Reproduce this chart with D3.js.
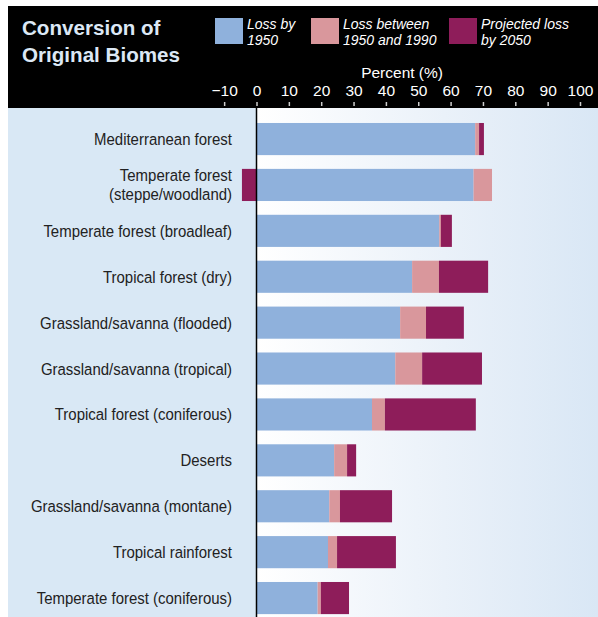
<!DOCTYPE html>
<html>
<head>
<meta charset="utf-8">
<script src="https://cdn.jsdelivr.net/npm/d3@7"></script>
<style>
body{margin:0;background:#fff;}
</style>
</head>
<body>
<script>
var canvaswidth=598;
var canvasheight=617;

// data (percent of original area)
var biomes=["Mediterranean forest","Temperate forest (steppe/woodland)","Temperate forest (broadleaf)","Tropical forest (dry)",
	"Grassland/savanna (flooded)","Grassland/savanna (tropical)","Tropical forest (coniferous)","Deserts",
	"Grassland/savanna (montane)","Tropical rainforest","Temperate forest (coniferous)"];
var lossBy1950=[67.6,67.1,56.5,48.1,44.4,42.9,35.7,24.0,22.5,22.1,18.9];
var loss1950to1990=[1.2,5.7,0.5,8.3,8.0,8.3,4.0,4.0,3.3,2.8,1.0];
var projected2050=[1.5,-4.5,3.4,15.2,11.7,18.5,28.1,2.8,16.1,18.2,8.7];
var seriesNames=["Loss by\n1950","Loss between\n1950 and 1990","Projected loss\nby 2050"];
var tickvals=[-10,0,10,20,30,40,50,60,70,80,90,100];
var colors=["#8fb1dc","#d9979c","#8e1d5a"];

var svg=d3.select("body").append("svg")
	.attr("width",canvaswidth)
	.attr("height",canvasheight);

var x=d3.scaleLinear().domain([0,100]).range([256.5,580]);
var y=d3.scaleBand().domain(biomes).range([116.1,621]).paddingInner(0.3).paddingOuter(0.15);

var defs=svg.append("defs");
var grad=defs.append("linearGradient").attr("id","plotgrad").attr("x1","0%").attr("x2","100%").attr("y1","0%").attr("y2","0%");
grad.append("stop").attr("offset","0%").attr("stop-color","#ffffff");
grad.append("stop").attr("offset","55%").attr("stop-color","#eaf1f9");
grad.append("stop").attr("offset","100%").attr("stop-color","#d9e7f5");

// header + panels
svg.append("rect").attr("x",8).attr("y",6).attr("width",canvaswidth-8).attr("height",102).attr("fill","#000");
svg.append("rect").attr("x",8).attr("y",108).attr("width",x(0)-8).attr("height",canvasheight-108).attr("fill","#d9e8f5");
svg.append("rect").attr("x",x(0)).attr("y",108).attr("width",canvaswidth-x(0)).attr("height",canvasheight-108).attr("fill","url(#plotgrad)");

svg.append("text").attr("x",22).attr("y",35).text("Conversion of")
	.attr("fill","#dce8f5").attr("font-family","Liberation Sans, Arial, sans-serif").attr("font-weight","bold").attr("font-size",20.6);
svg.append("text").attr("x",22).attr("y",62).text("Original Biomes")
	.attr("fill","#dce8f5").attr("font-family","Liberation Sans, Arial, sans-serif").attr("font-weight","bold").attr("font-size",20.6);

// legend
var legx=[215,311,449];
seriesNames.forEach(function(name,i){
	svg.append("rect").attr("x",legx[i]).attr("y",18).attr("width",28).attr("height",26).attr("fill",colors[i]);
	var t=svg.append("text").attr("x",legx[i]+32).attr("y",29).attr("fill","#fff")
		.attr("font-family","Liberation Sans, Arial, sans-serif").attr("font-style","italic").attr("font-size",14);
	name.split("\n").forEach(function(line,j){
		t.append("tspan").attr("x",legx[i]+32).attr("dy",j==0?0:16).text(line);
	});
});

// axis on top
svg.append("text").attr("x",x(45)).attr("y",78).attr("text-anchor","middle").text("Percent (%)")
	.attr("fill","#fff").attr("font-family","Liberation Sans, Arial, sans-serif").attr("font-size",15.5);
var xAxis=d3.axisTop(x).tickValues(tickvals).tickSize(4).tickPadding(6)
	.tickFormat(function(d){return d<0?"\u2212"+Math.abs(d):d;});
var ax=svg.append("g").attr("transform","translate(0,106)").call(xAxis);
ax.select(".domain").remove();
ax.selectAll(".tick line").attr("stroke","#ccc").attr("stroke-width",1.5);
ax.selectAll(".tick text").attr("fill","#fff").attr("font-family","Liberation Sans, Arial, sans-serif").attr("font-size",15.5);

// stacked bars
biomes.forEach(function(b,i){
	var segs=[[0,lossBy1950[i]],[lossBy1950[i],lossBy1950[i]+loss1950to1990[i]]];
	var p=projected2050[i];
	if (p>=0) segs.push([segs[1][1],segs[1][1]+p]);
	else segs.push([p,0]); // negative projected loss drawn left of zero
	segs.forEach(function(s,k){
		svg.append("rect").attr("x",x(s[0])).attr("y",y(b)).attr("width",x(s[1])-x(s[0])).attr("height",y.bandwidth())
			.attr("fill",colors[k]);
	});
});

// category labels (no narrow font installed, so squeeze horizontally)
biomes.forEach(function(b){
	var lines=b=="Temperate forest (steppe/woodland)"?["Temperate forest","(steppe/woodland)"]:[b];
	var cy=y(b)+y.bandwidth()/2;
	var t=svg.append("text").attr("text-anchor","end").attr("fill","#222")
		.attr("transform","translate(232,"+cy+") scale(0.88,1)")
		.attr("font-family","Liberation Sans, Arial, sans-serif").attr("font-size",17);
	lines.forEach(function(line,j){
		t.append("tspan").attr("x",0).attr("y",6+(j-(lines.length-1)/2)*19).text(line);
	});
});

svg.append("line").attr("x1",x(0)).attr("x2",x(0)).attr("y1",108).attr("y2",canvasheight).attr("stroke","#000").attr("stroke-width",1.5);
</script>
</body>
</html>
